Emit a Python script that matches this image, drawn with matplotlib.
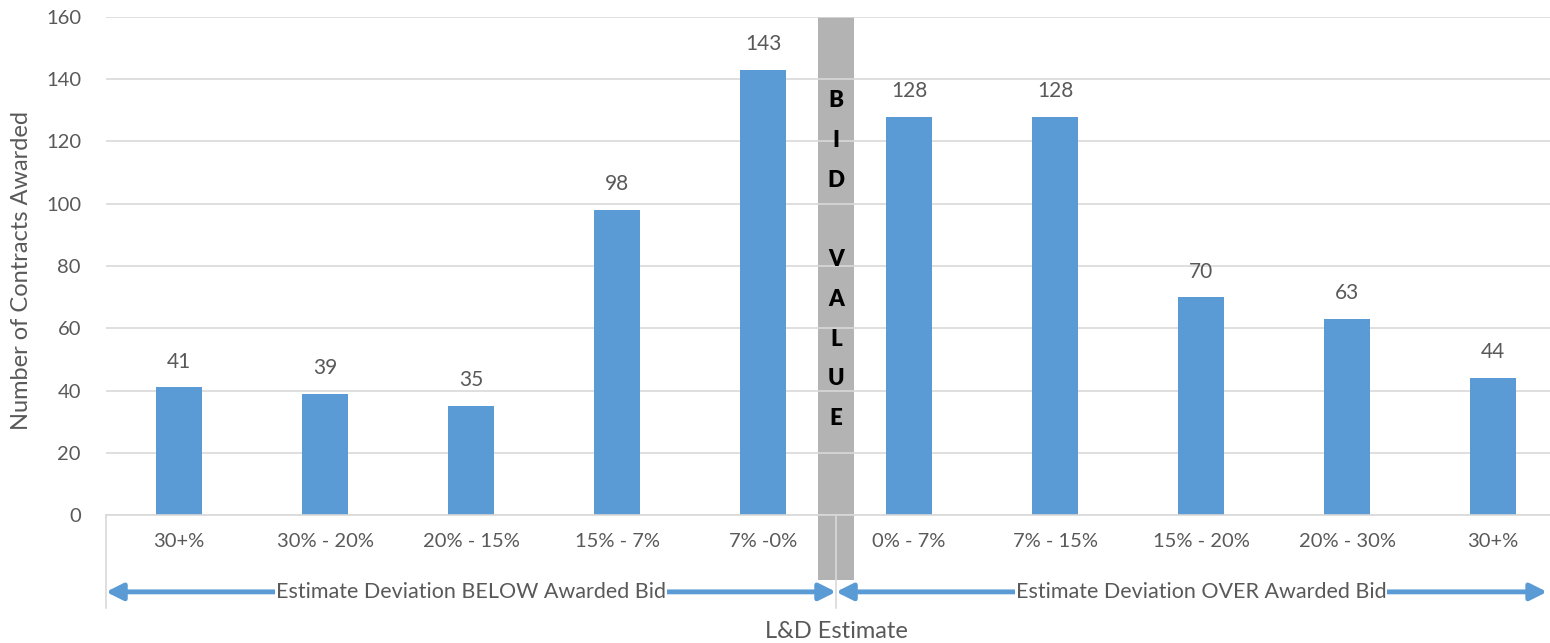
import numpy as np
import matplotlib
matplotlib.use('Agg')
from matplotlib import pyplot as plt
from matplotlib.patches import Rectangle

categories = ['30+%', '30% - 20%', '20% - 15%', '15% - 7%', '7% -0%',
              '0% - 7%', '7% - 15%', '15% - 20%', '20% - 30%', '30+%']
counts = [41, 39, 35, 98, 143, 128, 128, 70, 63, 44]
yticks = [0, 20, 40, 60, 80, 100, 120, 140, 160]
below_label = 'Estimate Deviation BELOW Awarded Bid'
over_label = 'Estimate Deviation OVER Awarded Bid'

plt.rcParams['font.family'] = ['Lato', 'DejaVu Sans']
txt = '#595959'
blue = '#5B9BD5'

fig = plt.figure(figsize=(15.5, 6.43), dpi=100)
ax = fig.add_axes([106/1550, 128/643, 1444/1550, 498/643])

x = np.arange(len(categories))
ax.bar(x, counts, width=0.315, color=blue, zorder=2)
for xi, v in zip(x, counts):
    ax.text(xi, v + 5, str(v), ha='center', va='bottom', fontsize=15, color=txt)

ax.set_xlim(-0.5, 9.39)
ax.set_ylim(0, 160)
ax.set_yticks(yticks)
ax.set_xticks(x)
ax.set_xticklabels(categories)
ax.tick_params(axis='both', length=0, labelsize=14.5, labelcolor=txt)
ax.tick_params(axis='x', pad=13)
ax.tick_params(axis='y', pad=18)
ax.grid(axis='y', color='#d9d9d9', linewidth=1.2, zorder=1)
for s in ['top', 'right', 'left']:
    ax.spines[s].set_visible(False)
ax.spines['bottom'].set_color('#d9d9d9')
ax.spines['bottom'].set_linewidth(1.2)
ax.set_axisbelow(True)

# bid value band
band = Rectangle((4.377, -20.9), 0.246, 180.9, facecolor='#b3b3b3',
                 edgecolor='none', clip_on=False, zorder=0.5)
ax.add_patch(band)
ax.text(4.5, 82, 'B\nI\nD\n\nV\nA\nL\nU\nE', ha='center', va='center',
        fontsize=16, fontweight='heavy', color='black', linespacing=2.1, zorder=3)

# boundary lines under axis
for bx in [-0.5, 4.5]:
    ax.plot([bx, bx], [0, -30], color='#d9d9d9', lw=1.2, clip_on=False, zorder=1)

# deviation arrows
ya = -24.7
for x0, x1, lab, xc in [(-0.5, 4.5, below_label, 2.0), (4.5, 9.37, over_label, 7.0)]:
    ax.annotate('', xy=(x0, ya), xytext=(x1, ya), annotation_clip=False,
                arrowprops=dict(arrowstyle='<|-|>,head_length=1.0,head_width=0.5',
                                color=blue, lw=3.5, shrinkA=0, shrinkB=0))
    ax.text(xc, ya, lab, ha='center', va='center', fontsize=15.5, color=txt,
            bbox=dict(facecolor='white', edgecolor='none', pad=0.5), zorder=4)

ax.text(4.5, -37.5, 'L&D Estimate', ha='center', va='center', fontsize=17, color=txt)
fig.text(22/1550, 1 - 270/643, 'Number of Contracts Awarded', rotation=90,
         ha='center', va='center', fontsize=17, color=txt)

fig.savefig('out.png', dpi=100)
